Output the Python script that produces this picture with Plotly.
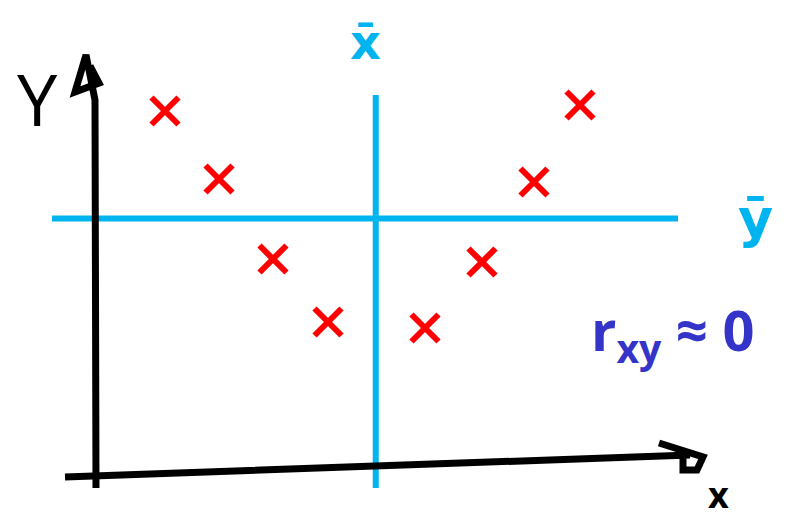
import numpy as np
import plotly.graph_objects as go

# sketch: scatter with zero correlation, quadrants split by the means
xs = [1.40, 2.48, 3.56, 4.66, 6.60, 7.74, 8.78, 9.70]
ys = [7.22, 5.86, 4.26, 3.00, 2.88, 4.20, 5.80, 7.34]

x_mean = float(np.mean(xs))
y_mean = float(np.mean(ys))

RED = "#ff0000"
CYAN = "#00b4f0"
BLUE = "#3434c8"
INK = "#000000"
FONT = "Open Sans, sans-serif"

fig = go.Figure()

# mean lines
fig.add_trace(go.Scatter(x=[x_mean, x_mean], y=[-0.32, 7.54], mode="lines",
                         line=dict(color=CYAN, width=6), hoverinfo="skip", showlegend=False))
fig.add_trace(go.Scatter(x=[-0.86, 11.66], y=[y_mean, y_mean], mode="lines",
                         line=dict(color=CYAN, width=6), hoverinfo="skip", showlegend=False))

# points
fig.add_trace(go.Scatter(x=xs, y=ys, mode="markers",
                         marker=dict(symbol="x-thin", size=27,
                                     line=dict(color=RED, width=6)),
                         showlegend=False))

# hand-drawn axes with arrows
axis_line = dict(color=INK, width=7)
fig.add_shape(type="path", xref="x", yref="y", line=axis_line,
              path="M 0.02,-0.32 L 0,7.44 L -0.18,8.34 L -0.4,7.6 L 0.08,7.78 L -0.1,8.12")
fig.add_shape(type="path", xref="x", yref="y", line=axis_line,
              path="M -0.6,-0.1 L 11.9,0.34 M 11.28,0.58 L 12.16,0.3 L 12.04,0.04 L 11.76,0.04 L 11.76,0.32")

# labels
fig.add_annotation(x=-1.16, y=7.48, text="Y", showarrow=False,
                   font=dict(family=FONT, size=72, color=INK))
fig.add_annotation(x=12.46, y=-0.44, text="<b>x</b>", showarrow=False,
                   font=dict(family=FONT, size=36, color=INK))
fig.add_annotation(x=x_mean - 0.2, y=8.6, text="<b>x\u0304</b>", showarrow=False,
                   font=dict(family="DejaVu Sans", size=48, color=CYAN))
fig.add_annotation(x=13.2, y=y_mean, text="<b>\u0233</b>", showarrow=False,
                   font=dict(family="DejaVu Sans", size=54, color=CYAN))
fig.add_annotation(x=11.55, y=2.8, text="<b>r<sub>xy</sub> \u2248 0</b>", showarrow=False,
                   font=dict(family=FONT, size=56, color=BLUE))

# the page body adds an 8px margin, so the figure is 8px smaller and the
# ranges start 8px further in
fig.update_layout(
    width=781, height=510,
    margin=dict(l=0, r=0, t=0, b=0),
    paper_bgcolor="white", plot_bgcolor="white",
    xaxis=dict(range=[-1.74, 13.88], visible=False, fixedrange=True),
    yaxis=dict(range=[-0.92, 9.28], visible=False, fixedrange=True),
)

fig.write_html("out.html")
